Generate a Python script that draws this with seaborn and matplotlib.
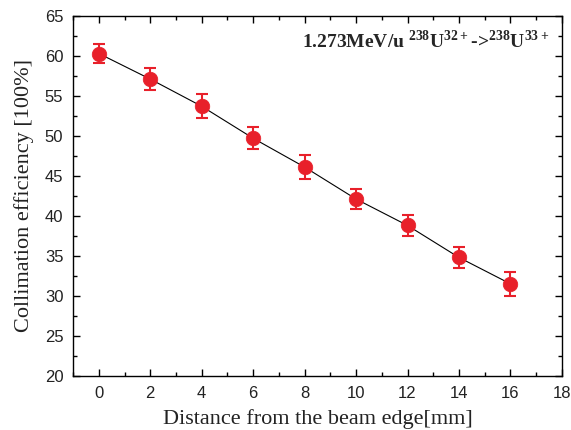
import matplotlib
matplotlib.use("Agg")
import matplotlib.pyplot as plt
import seaborn as sns
import pandas as pd
from matplotlib.ticker import MultipleLocator

distance = [0, 2, 4, 6, 8, 10, 12, 14, 16]
efficiency = [60.3, 57.1, 53.7, 49.7, 46.1, 42.1, 38.8, 34.8, 31.5]
error = [1.2, 1.4, 1.5, 1.4, 1.5, 1.2, 1.3, 1.3, 1.5]

df = pd.DataFrame({"d": distance, "e": efficiency, "err": error})

sns.set_style("ticks")
plt.rcParams["mathtext.fontset"] = "custom"
plt.rcParams["mathtext.rm"] = "Liberation Serif:bold"
plt.rcParams["mathtext.bf"] = "Liberation Serif:bold"

fig = plt.figure(figsize=(5.71, 4.30), dpi=100)
ax = fig.add_axes([0.128, 0.126, 0.856, 0.837])

red = "#e8202a"
sns.lineplot(data=df, x="d", y="e", ax=ax, color="black", linewidth=0.8, zorder=1)
ax.errorbar(df["d"], df["e"], yerr=df["err"], fmt="none", ecolor=red,
            elinewidth=1.5, capsize=4, capthick=1.5, zorder=2)
sns.scatterplot(data=df, x="d", y="e", ax=ax, color=red, s=110,
                edgecolor=red, linewidth=0.5, zorder=3)

ax.set_xlim(-1, 18)
ax.set_ylim(20, 65)
ax.xaxis.set_major_locator(MultipleLocator(2))
ax.xaxis.set_minor_locator(MultipleLocator(1))
ax.yaxis.set_major_locator(MultipleLocator(5))
ax.yaxis.set_minor_locator(MultipleLocator(2.5))
ax.tick_params(which="both", direction="in", top=True, right=True,
               labelfontfamily="Liberation Sans", labelsize=12, width=1,
               color="black", pad=7, labelcolor="#222222")
ax.tick_params(which="major", length=5)
ax.tick_params(which="minor", length=3)
for s in ax.spines.values():
    s.set_linewidth(1)
    s.set_color("black")

ax.set_xlabel("Distance from the beam edge[mm]", family="Liberation Serif",
              fontsize=16, labelpad=6, color="#222222")
ax.set_ylabel("Collimation efficiency [100%]", family="Liberation Serif",
              fontsize=16, labelpad=8, color="#222222")

ax.text(0.975, 0.93, r"1.273MeV/u $^{238}$U$^{32+}$->$^{238}$U$^{33+}$",
        transform=ax.transAxes, ha="right", va="center",
        family="Liberation Serif", fontweight="bold", fontsize=14)

fig.savefig("out.png", dpi=100)
